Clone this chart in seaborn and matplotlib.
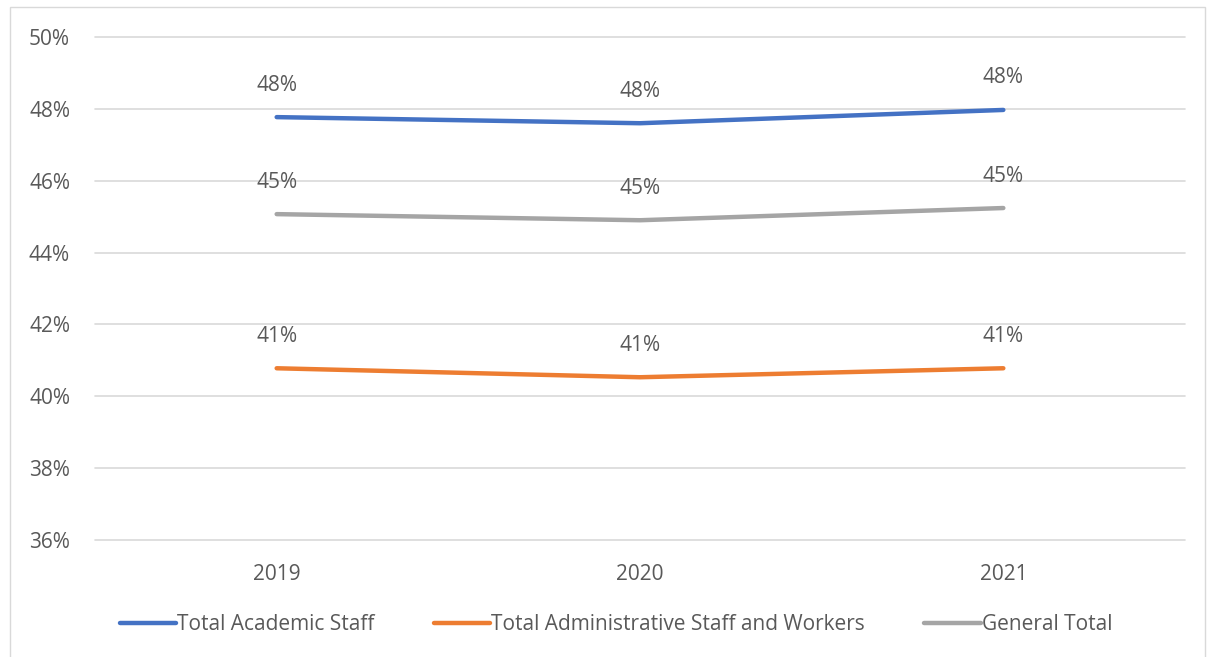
import pandas as pd
import matplotlib.pyplot as plt
import seaborn as sns
from matplotlib.patches import Rectangle
from matplotlib.ticker import FuncFormatter

years = ["2019", "2020", "2021"]
academic = [47.77, 47.6, 47.97]
administrative = [40.78, 40.53, 40.78]
general = [45.07, 44.9, 45.24]

series_names = ["Total Academic Staff", "Total Administrative Staff and Workers", "General Total"]
colors = ["#4472C4", "#ED7D31", "#A5A5A5"]

df = pd.DataFrame({
    "year": years * 3,
    "value": academic + administrative + general,
    "series": [series_names[0]] * 3 + [series_names[1]] * 3 + [series_names[2]] * 3,
})
df["x"] = df["year"].map({y: i + 0.5 for i, y in enumerate(years)})

sns.set_style("white")
plt.rcParams['font.family'] = ['Open Sans', 'DejaVu Sans']
text_color = "#595959"
fs = 15

fig = plt.figure(figsize=(12.08, 6.57), dpi=100)
ax = fig.add_axes([95 / 1208, 1 - 540 / 657, 1090 / 1208, 503 / 657])

sns.lineplot(data=df, x="x", y="value", hue="series", hue_order=series_names,
             palette=colors, linewidth=3.2, ax=ax, legend=True,
             solid_capstyle="round")

# data labels
for _, row in df.iterrows():
    ax.annotate(f"{round(row['value'])}%", (row["x"], row["value"]),
                xytext=(0, 23), textcoords="offset points", ha="center", va="center",
                fontsize=fs, color=text_color)

ax.set_xlim(0, 3)
ax.set_ylim(36, 50)
ax.set_yticks(range(36, 51, 2))
ax.yaxis.set_major_formatter(FuncFormatter(lambda v, p: f"{v:.0f}%"))
ax.set_xticks([0.5, 1.5, 2.5])
ax.set_xticklabels(years)
ax.tick_params(axis="both", length=0, labelsize=fs, colors=text_color)
ax.tick_params(axis="y", pad=18)
ax.tick_params(axis="x", pad=17)
ax.set_xlabel("")
ax.set_ylabel("")
ax.grid(axis="y", color="#D9D9D9", linewidth=1.2)
for gl in ax.get_ygridlines():
    gl.set_clip_on(False)
ax.set_axisbelow(True)
for s in ax.spines.values():
    s.set_visible(False)

handles, labels = ax.get_legend_handles_labels()
for h in handles:
    h.set_linewidth(3.2)
    h.set_solid_capstyle("round")
leg = ax.legend(handles, labels, loc="center", bbox_to_anchor=(616 / 1208, (657 - 625) / 657),
                bbox_transform=fig.transFigure, ncol=3, frameon=False,
                fontsize=fs, handlelength=2.7, handletextpad=0.05, columnspacing=2.85)
for t in leg.get_texts():
    t.set_color(text_color)

# outer chart border
fig.patches.append(Rectangle((10 / 1208, -0.01), 1195 / 1208, 1 - 7 / 657 + 0.01,
                             transform=fig.transFigure, fill=False,
                             edgecolor="#D9D9D9", linewidth=1))

fig.savefig("out.png", dpi=100)
